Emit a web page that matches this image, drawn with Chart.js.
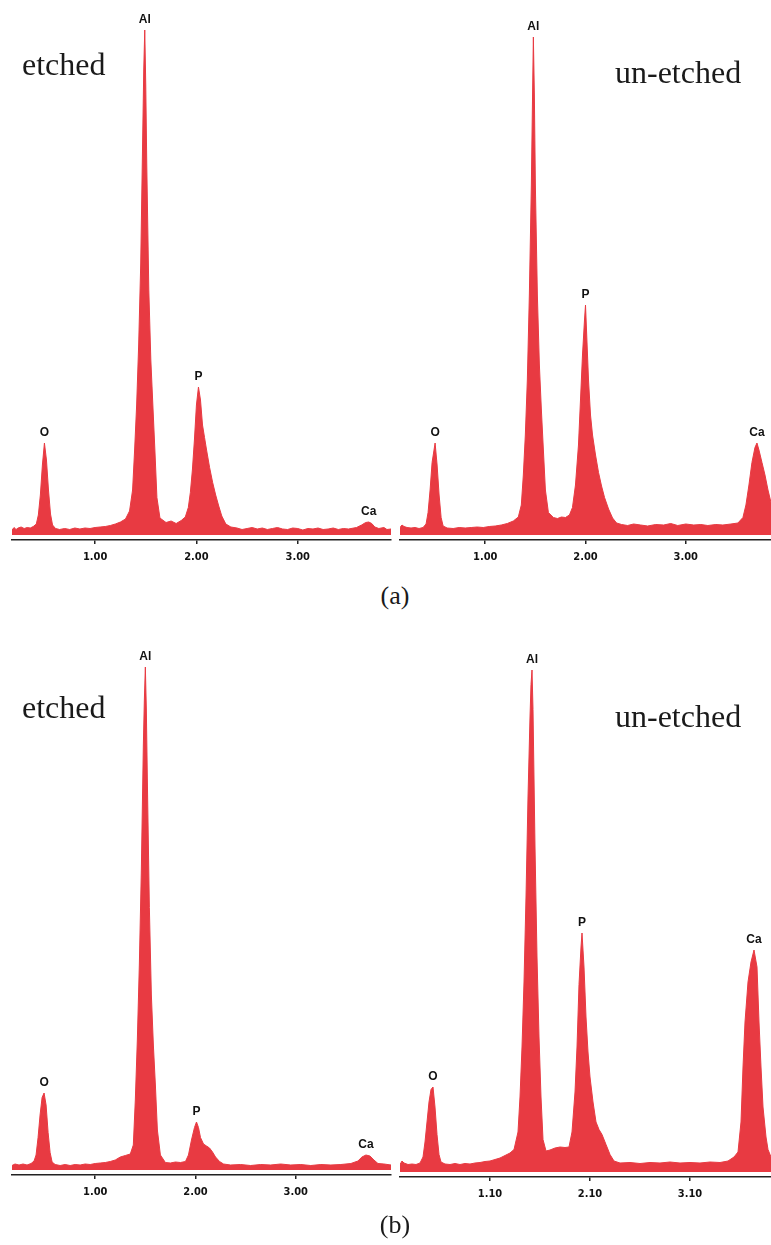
<!DOCTYPE html>
<html lang="en">

<head>
    <meta charset="UTF-8">
    <title>EDS spectra</title>
    <script src="https://cdn.jsdelivr.net/npm/chart.js"></script>
    <style>
        body {
            margin: 0;
            width: 771px;
            height: 1245px;
            position: relative;
            overflow: hidden;
            background: #fff;
        }

        canvas {
            position: absolute;
        }

        .note {
            position: absolute;
            font-family: "Liberation Serif", "Times New Roman", serif;
            font-size: 32px;
            line-height: 32px;
            color: #1a1a1a;
            white-space: nowrap;
        }

        .cap {
            position: absolute;
            width: 80px;
            text-align: center;
            font-family: "Liberation Serif", "Times New Roman", serif;
            font-size: 26px;
            line-height: 26px;
            color: #1a1a1a;
        }
    </style>
</head>

<body>
    <canvas id="aEtched" width="400" height="580" style="left:0;top:0"></canvas>
    <canvas id="aUnetched" width="381" height="580" style="left:390px;top:0"></canvas>
    <canvas id="bEtched" width="400" height="580" style="left:0;top:635px"></canvas>
    <canvas id="bUnetched" width="381" height="580" style="left:390px;top:637px"></canvas>

    <div class="note" style="left:22px;top:48px">etched</div>
    <div class="note" style="left:615px;top:56px">un-etched</div>
    <div class="cap" style="left:355px;top:583px">(a)</div>
    <div class="note" style="left:22px;top:691px">etched</div>
    <div class="note" style="left:615px;top:700px">un-etched</div>
    <div class="cap" style="left:355px;top:1212px">(b)</div>

<script>
    // energy axis ticks (keV)
    const ticksA = [1, 2, 3]
    const ticksBEtched = [1, 2, 3]
    const ticksBUnetched = [1.1, 2.1, 3.1]

    const peakNames = ['O', 'Al', 'P', 'Ca']

    // (a) etched
    const aEtchedKeV = [0.18, 0.20, 0.22, 0.24, 0.27, 0.30, 0.33, 0.36, 0.39, 0.42, 0.44, 0.46, 0.48, 0.50, 0.52, 0.54, 0.56, 0.58, 0.61,
        0.65, 0.70, 0.75, 0.80, 0.85, 0.90, 0.95, 1.00, 1.05, 1.10, 1.15, 1.20, 1.25, 1.30, 1.34, 1.37, 1.39, 1.41, 1.43, 1.45,
        1.47, 1.48, 1.49, 1.50, 1.51, 1.53, 1.55, 1.57, 1.59, 1.61, 1.64, 1.70, 1.75, 1.80, 1.85, 1.89, 1.92, 1.94, 1.96, 1.98, 2.00,
        2.02, 2.04, 2.06, 2.08, 2.10, 2.13, 2.16, 2.19, 2.22, 2.25, 2.29, 2.34, 2.40, 2.45, 2.50, 2.55, 2.60, 2.65, 2.70, 2.75, 2.80,
        2.85, 2.90, 2.95, 3.00, 3.05, 3.10, 3.15, 3.20, 3.25, 3.30, 3.35, 3.40, 3.45, 3.50, 3.58, 3.63, 3.67, 3.70, 3.73, 3.76,
        3.80, 3.85, 3.88, 3.92]
    const aEtchedCounts = [20, 30, 22, 28, 32, 26, 30, 28, 34, 44, 80, 160, 280, 368, 300, 180, 84, 40, 26,
        22, 26, 22, 28, 24, 28, 26, 30, 32, 34, 38, 44, 52, 64, 96, 180, 340, 520, 760, 1080,
        1600, 1860, 2020, 1800, 1480, 980, 700, 520, 340, 150, 68, 50, 56, 46, 58, 72, 110, 170, 260, 380, 520,
        592, 540, 440, 390, 340, 270, 210, 160, 116, 76, 44, 32, 28, 22, 26, 30, 24, 28, 22, 26, 30,
        24, 22, 28, 26, 20, 26, 24, 28, 22, 24, 28, 22, 26, 24, 30, 40, 50, 52, 46, 32,
        26, 30, 22, 24]
    const aEtchedPeaks = [0.50, 1.49, 2.02, 3.70]

    // (a) un-etched
    const aUnetchedKeV = [0.15, 0.17, 0.19, 0.22, 0.26, 0.30, 0.34, 0.38, 0.41, 0.43, 0.45, 0.47, 0.50, 0.52, 0.54, 0.56, 0.58,
        0.62, 0.68, 0.74, 0.80, 0.86, 0.92, 0.98, 1.04, 1.10, 1.16, 1.22, 1.28, 1.33, 1.36, 1.38, 1.40, 1.42, 1.44, 1.46, 1.47,
        1.48, 1.49, 1.50, 1.52, 1.54, 1.56, 1.58, 1.60, 1.63, 1.68, 1.72, 1.76, 1.80, 1.84, 1.87, 1.90, 1.93, 1.95, 1.97, 1.99,
        2.00, 2.01, 2.03, 2.05, 2.07, 2.10, 2.13, 2.16, 2.19, 2.23, 2.27, 2.31, 2.36, 2.42, 2.48, 2.55, 2.62, 2.70, 2.78, 2.85,
        2.92, 3.00, 3.08, 3.15, 3.22, 3.30, 3.37, 3.45, 3.52, 3.57, 3.60, 3.63, 3.66, 3.69, 3.71, 3.73, 3.76, 3.79, 3.82, 3.85]
    const aUnetchedCounts = [30, 40, 34, 30, 28, 30, 26, 30, 44, 90, 180, 290, 368, 280, 160, 70, 36,
        28, 26, 30, 28, 30, 32, 30, 34, 36, 40, 46, 56, 72, 120, 240, 400, 620, 960, 1400, 1700,
        1992, 1760, 1400, 960, 680, 500, 340, 180, 90, 70, 66, 72, 70, 80, 110, 200, 360, 540, 720, 860,
        920, 820, 620, 480, 400, 320, 250, 196, 150, 104, 68, 48, 42, 38, 44, 40, 36, 42, 40, 46,
        38, 44, 40, 42, 38, 42, 40, 44, 48, 70, 120, 200, 290, 350, 368, 340, 290, 240, 180, 130]
    const aUnetchedPeaks = [0.50, 1.48, 2.00, 3.71]

    // (b) etched
    const bEtchedKeV = [0.17, 0.20, 0.24, 0.28, 0.32, 0.36, 0.39, 0.41, 0.43, 0.45, 0.47, 0.49, 0.51, 0.53, 0.55, 0.57, 0.60,
        0.65, 0.70, 0.75, 0.80, 0.85, 0.90, 0.95, 1.00, 1.05, 1.10, 1.15, 1.20, 1.25, 1.30, 1.35, 1.38, 1.40, 1.42, 1.44, 1.46,
        1.48, 1.49, 1.50, 1.51, 1.52, 1.54, 1.56, 1.58, 1.60, 1.62, 1.65, 1.70, 1.75, 1.80, 1.85, 1.90, 1.93, 1.96, 1.99, 2.01, 2.03,
        2.05, 2.08, 2.11, 2.14, 2.17, 2.20, 2.24, 2.28, 2.35, 2.45, 2.55, 2.65, 2.75, 2.85, 2.95, 3.05, 3.15, 3.25, 3.35, 3.45,
        3.55, 3.62, 3.66, 3.70, 3.74, 3.78, 3.82, 3.88, 3.95]
    const bEtchedCounts = [18, 24, 20, 24, 20, 26, 36, 60, 130, 220, 290, 308, 260, 150, 70, 32, 22,
        18, 22, 18, 22, 20, 24, 22, 26, 28, 30, 34, 40, 52, 58, 64, 100, 280, 520, 820, 1200,
        1700, 1880, 2012, 1840, 1560, 1050, 700, 500, 340, 160, 60, 30, 28, 32, 30, 34, 60, 120, 170, 192, 170,
        130, 104, 96, 88, 72, 52, 34, 24, 20, 22, 18, 22, 20, 24, 20, 22, 18, 22, 20, 22,
        26, 36, 52, 60, 56, 40, 26, 24, 20]
    const bEtchedPeaks = [0.49, 1.50, 2.01, 3.70]

    // (b) un-etched
    const bUnetchedKeV = [0.20, 0.22, 0.24, 0.28, 0.32, 0.36, 0.40, 0.43, 0.45, 0.47, 0.49, 0.51, 0.53, 0.55, 0.57, 0.59, 0.61,
        0.65, 0.70, 0.75, 0.80, 0.85, 0.90, 0.95, 1.00, 1.05, 1.10, 1.15, 1.20, 1.25, 1.30, 1.34, 1.38, 1.40, 1.42, 1.44, 1.46,
        1.48, 1.50, 1.51, 1.52, 1.53, 1.55, 1.57, 1.59, 1.61, 1.63, 1.66, 1.70, 1.75, 1.80, 1.85, 1.89, 1.92, 1.95, 1.97, 1.99, 2.01,
        2.02, 2.04, 2.06, 2.08, 2.10, 2.13, 2.16, 2.19, 2.22, 2.26, 2.30, 2.34, 2.40, 2.50, 2.60, 2.70, 2.80, 2.90, 3.00, 3.10,
        3.20, 3.30, 3.40, 3.48, 3.54, 3.58, 3.61, 3.63, 3.65, 3.68, 3.71, 3.74, 3.77, 3.79, 3.81, 3.83, 3.86, 3.88, 3.91]
    const bUnetchedCounts = [30, 44, 36, 30, 32, 30, 36, 60, 120, 200, 280, 330, 340, 260, 150, 70, 40,
        32, 30, 34, 30, 34, 32, 36, 38, 42, 44, 50, 56, 66, 76, 90, 160, 300, 500, 760, 1100,
        1500, 1820, 1950, 2008, 1850, 1300, 860, 540, 300, 130, 84, 88, 96, 100, 98, 100, 160, 320, 500, 750, 900,
        956, 820, 620, 480, 380, 280, 200, 170, 150, 110, 70, 44, 36, 38, 34, 38, 36, 40, 36, 38,
        36, 40, 38, 44, 60, 80, 200, 420, 600, 760, 840, 888, 820, 600, 420, 260, 140, 90, 60]
    const bUnetchedPeaks = [0.53, 1.52, 2.02, 3.74]

    const RED = 'rgb(232, 58, 66)'

    // element names above each peak tip
    const peakLabels = {
        id: 'peakLabels',
        afterDatasetsDraw(chart, args, opts) {
            const { ctx, scales: { x, y } } = chart
            const pts = chart.data.datasets[0].data
            ctx.save()
            ctx.font = 'bold 12px "Liberation Sans", Arial, sans-serif'
            ctx.fillStyle = '#111'
            ctx.textAlign = 'center'
            ctx.textBaseline = 'bottom'
            opts.energies.forEach((e, i) => {
                const p = pts.find(d => d.x === e)
                ctx.fillText(peakNames[i], x.getPixelForValue(e), y.getPixelForValue(p.y) - 4)
            })
            ctx.restore()
        }
    }

    function spectrum(id, keV, counts, peaks, tickVals, range, pad) {
        const ctx = document.getElementById(id).getContext('2d')
        new Chart(ctx, {
            type: 'line',
            data: {
                datasets: [{
                    data: keV.map((e, i) => ({ x: e, y: counts[i] })),
                    fill: 'origin',
                    backgroundColor: RED,
                    borderColor: RED,
                    borderWidth: 1,
                    pointRadius: 0,
                    tension: 0
                }]
            },
            options: {
                responsive: false,
                animation: false,
                layout: { padding: { left: pad[0], right: pad[1], top: 0, bottom: 0 } },
                plugins: {
                    legend: { display: false },
                    tooltip: { enabled: false },
                    peakLabels: { energies: peaks }
                },
                scales: {
                    x: {
                        type: 'linear',
                        min: range[0],
                        max: range[1],
                        afterBuildTicks: ax => { ax.ticks = tickVals.map(v => ({ value: v })) },
                        afterFit: ax => { ax.height = 40 },
                        ticks: {
                            callback: v => v.toFixed(2),
                            color: '#111',
                            padding: 7,
                            maxRotation: 0,
                            autoSkip: false,
                            font: { family: '"DejaVu Sans Condensed", "DejaVu Sans", sans-serif', size: 11, weight: 'bold' }
                        },
                        grid: { drawOnChartArea: false, tickLength: 4, color: '#222', lineWidth: 1.5 },
                        border: { color: '#222', width: 1.5 }
                    },
                    y: { display: false, min: -20, max: 2140 }
                }
            },
            plugins: [peakLabels]
        })
    }

    spectrum('aEtched', aEtchedKeV, aEtchedCounts, aEtchedPeaks, ticksA, [0.18, 3.92], [12, 9])
    spectrum('aUnetched', aUnetchedKeV, aUnetchedCounts, aUnetchedPeaks, ticksA, [0.15, 3.85], [10, 0])
    spectrum('bEtched', bEtchedKeV, bEtchedCounts, bEtchedPeaks, ticksBEtched, [0.17, 3.95], [12, 9])
    spectrum('bUnetched', bUnetchedKeV, bUnetchedCounts, bUnetchedPeaks, ticksBUnetched, [0.20, 3.91], [10, 0])
</script>
</body>

</html>
